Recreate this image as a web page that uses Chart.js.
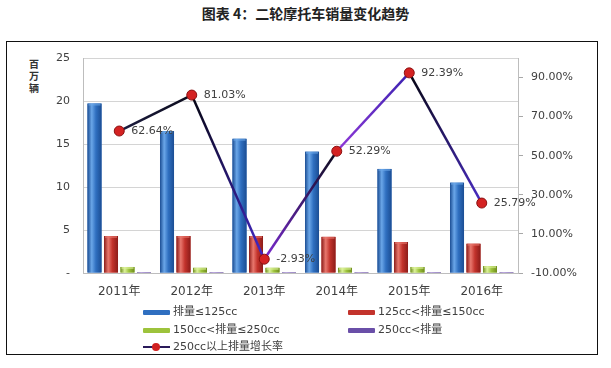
<!DOCTYPE html>
<html>
<head>
<meta charset="utf-8">
<script src="https://cdn.jsdelivr.net/npm/chart.js"></script>
<style>
  body { margin: 0; width: 611px; height: 368px; background: #fff; overflow: hidden; position: relative;
         font-family: "DejaVu Sans", "Noto Sans CJK SC", sans-serif; }
  #title { position: absolute; left: 0; top: 3px; width: 611px; text-align: center;
           font: bold 14px "Noto Sans CJK SC", sans-serif; color: #222; }
  #frame { position: absolute; left: 6px; top: 41px; width: 590px; height: 312px; border: 1.5px solid #111; }
  #unit { position: absolute; left: 27px; top: 58px; width: 14px; }
  #unit span { display: block; width: 14px; height: 11px; margin-bottom: 1px; text-align: center;
               font: bold 10px/11px "Noto Sans CJK SC", sans-serif; color: #333; }
  #chart-wrap { position: absolute; left: 0; top: 0; width: 611px; height: 368px; }
  #legend { position: absolute; left: 143px; top: 304px; font-size: 11px; color: #404040; }
  .lg { position: absolute; white-space: nowrap; height: 16px; line-height: 16px; }
  .sw { display: inline-block; width: 27px; height: 5px; vertical-align: middle; margin-right: 3px; border-radius: 1px; }
  .ln { display: inline-block; width: 27px; height: 10px; vertical-align: middle; margin-right: 3px; position: relative; }
  .ln i { position: absolute; left: 0; right: 0; top: 4px; height: 2px; background: #2a1a5a; }
  .ln b { position: absolute; left: 9px; top: 1px; width: 8px; height: 8px; border-radius: 50%; background: #d02020; }
</style>
</head>
<body>
<div id="title">图表 4：二轮摩托车销量变化趋势</div>
<div id="frame"></div>
<div id="unit"><span>百</span><span>万</span><span>辆</span></div>
<div id="chart-wrap"><canvas id="chart" width="611" height="368"></canvas></div>
<div id="legend"></div>
<script>
// Data
const years = ['2011年', '2012年', '2013年', '2014年', '2015年', '2016年'];
const below125 = [19.7, 16.5, 15.6, 14.1, 12.1, 10.5];
const from125to150 = [4.3, 4.3, 4.3, 4.2, 3.6, 3.4];
const from150to250 = [0.7, 0.6, 0.6, 0.6, 0.7, 0.8];
const above250 = [0.1, 0.1, 0.1, 0.1, 0.1, 0.1];
const growth250 = [62.64, 81.03, -2.93, 52.29, 92.39, 25.79];
const leftTicks = [0, 5, 10, 15, 20, 25];
const rightTicks = [-10, 10, 30, 50, 70, 90];

const labelFont = '"DejaVu Sans", "Noto Sans CJK SC", sans-serif';

// colours for the cylinder-ish bars: [edge, highlight, middle]
const barShades = [
  ['#1b4d93', '#6aa6e8', '#2f6fc0'],
  ['#8c1c19', '#e8776d', '#c3332c'],
  ['#6e8c1e', '#dcf29a', '#9dc33c'],
  ['#4a3480', '#a890d8', '#6a4fa8']
];
const segColors = [
  ['#1c1c40', '#0c0c1c'],
  ['#050510', '#4428c8'],
  ['#7a2ad0', '#0c0c1c'],
  ['#9038d8', '#3a22b0'],
  ['#050510', '#4a2cc4']
];

// paint bars with a horizontal gradient on top of the flat fill
const barShine = {
  id: 'barShine',
  afterDatasetDraw(chart, args) {
    const ds = chart.data.datasets[args.index];
    if (ds.type !== 'bar') return;
    const shade = barShades[args.index];
    const c = chart.ctx;
    c.save();
    args.meta.data.forEach(bar => {
      const l = bar.x - bar.width / 2, r = bar.x + bar.width / 2;
      const g = c.createLinearGradient(l, 0, r, 0);
      g.addColorStop(0, shade[0]);
      g.addColorStop(0.3, shade[1]);
      g.addColorStop(0.6, shade[2]);
      g.addColorStop(1, shade[0]);
      c.fillStyle = g;
      c.fillRect(l, bar.y, r - l, bar.base - bar.y);
      // light top cap
      c.fillStyle = shade[1];
      c.globalAlpha = 0.6;
      c.fillRect(l + 1, bar.y, r - l - 2, Math.min(2, bar.base - bar.y));
      c.globalAlpha = 1;
    });
    c.restore();
  }
};

// percentage labels next to the line points
const pointLabels = {
  id: 'pointLabels',
  afterDatasetsDraw(chart) {
    const idx = chart.data.datasets.findIndex(d => d.type === 'line');
    const meta = chart.getDatasetMeta(idx);
    const c = chart.ctx;
    c.save();
    c.font = '11px ' + labelFont;
    c.fillStyle = '#404040';
    c.textBaseline = 'middle';
    c.textAlign = 'left';
    meta.data.forEach((p, i) => {
      c.fillText(growth250[i].toFixed(2) + '%', p.x + 12, p.y);
    });
    c.restore();
  }
};

function segGradient(ctx) {
  const c = ctx.chart.ctx;
  const cols = segColors[ctx.p0DataIndex] || segColors[0];
  const g = c.createLinearGradient(ctx.p0.x, ctx.p0.y, ctx.p1.x, ctx.p1.y);
  g.addColorStop(0, cols[0]);
  g.addColorStop(1, cols[1]);
  return g;
}

const barCommon = { type: 'bar', yAxisID: 'y', order: 1, barPercentage: 0.85, categoryPercentage: 0.91, borderWidth: 0 };

new Chart(document.getElementById('chart'), {
  data: {
    labels: years,
    datasets: [
      Object.assign({ label: '排量≤125cc', data: below125, backgroundColor: '#2f6fc0' }, barCommon),
      Object.assign({ label: '125cc<排量≤150cc', data: from125to150, backgroundColor: '#c3332c' }, barCommon),
      Object.assign({ label: '150cc<排量≤250cc', data: from150to250, backgroundColor: '#9dc33c' }, barCommon),
      Object.assign({ label: '250cc<排量', data: above250, backgroundColor: '#6a4fa8' }, barCommon),
      {
        type: 'line', label: '250cc以上排量增长率', data: growth250, yAxisID: 'y1', order: 0,
        borderColor: '#1a1040', borderWidth: 2.5, tension: 0,
        segment: { borderColor: segGradient },
        pointRadius: 5, pointBackgroundColor: '#d42222', pointBorderColor: '#8a1010', pointBorderWidth: 1
      }
    ]
  },
  options: {
    responsive: false,
    animation: false,
    layout: { padding: { left: 0, right: 0, top: 58, bottom: 0 } },
    plugins: { legend: { display: false }, tooltip: { enabled: false } },
    scales: {
      x: {
        grid: { display: false, drawTicks: false },
        border: { color: '#bdbdbd' },
        ticks: { padding: 12, color: '#404040', font: { size: 12, family: labelFont } },
        afterFit: s => { s.height = 95; }
      },
      y: {
        position: 'left', min: 0, max: 25,
        afterBuildTicks: s => { s.ticks = leftTicks.map(v => ({ value: v })); },
        grid: { color: '#d4d4d4', drawTicks: false },
        border: { color: '#bdbdbd' },
        ticks: { padding: 13, color: '#404040', font: { size: 11, family: labelFont },
                 callback: v => v === 0 ? '-' : v },
        afterFit: s => { s.width = 83; }
      },
      y1: {
        position: 'right', min: -10, max: 100,
        afterBuildTicks: s => { s.ticks = rightTicks.map(v => ({ value: v })); },
        grid: { display: true, drawOnChartArea: false, tickLength: 5, color: '#a8a8a8' },
        border: { color: '#bdbdbd' },
        ticks: { padding: 8, color: '#404040', font: { size: 11, family: labelFont },
                 callback: v => v.toFixed(2) + '%' },
        afterFit: s => { s.width = 93; }
      }
    }
  },
  plugins: [barShine, pointLabels]
});

// Legend in two columns like the original
const legendItems = [
  { text: '排量≤125cc', color: '#2f6fc0', x: 0, y: 0 },
  { text: '125cc<排量≤150cc', color: '#c3332c', x: 205, y: 0 },
  { text: '150cc<排量≤250cc', color: '#9dc33c', x: 0, y: 18 },
  { text: '250cc<排量', color: '#6a4fa8', x: 205, y: 18 },
  { text: '250cc以上排量增长率', line: true, x: 0, y: 35 }
];
const legend = document.getElementById('legend');
legend.innerHTML = legendItems.map(it => {
  const mark = it.line ? '<span class="ln"><i></i><b></b></span>'
                       : `<span class="sw" style="background:${it.color}"></span>`;
  return `<div class="lg" style="left:${it.x}px;top:${it.y}px">${mark}${it.text}</div>`;
}).join('');
</script>
</body>
</html>
